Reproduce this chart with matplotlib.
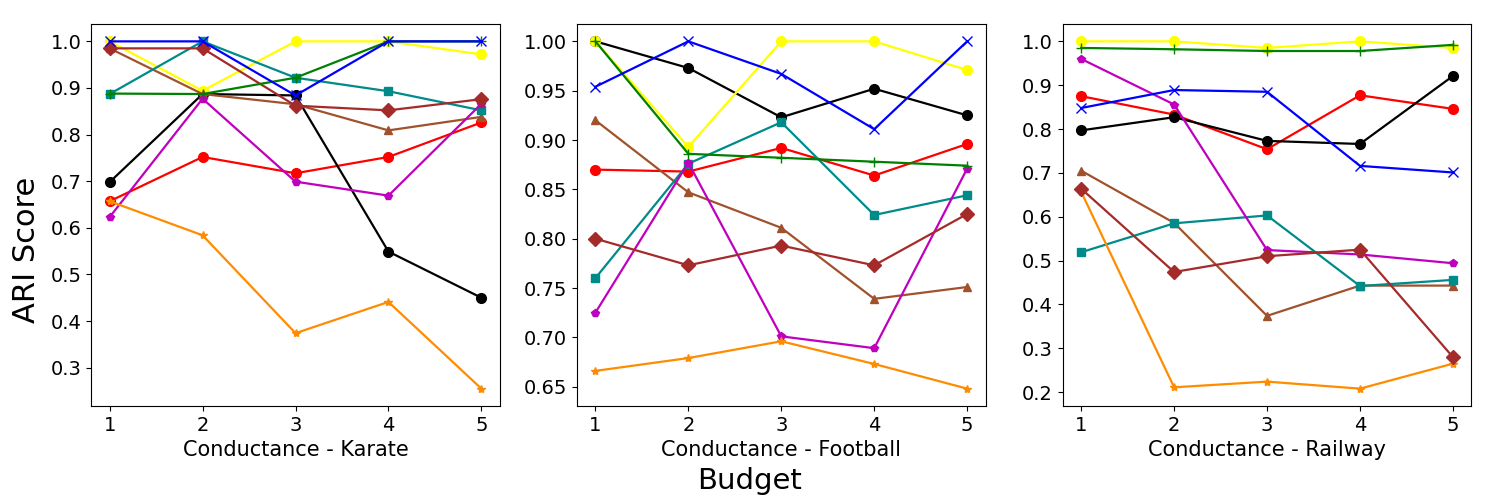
import matplotlib
matplotlib.use('Agg')
import matplotlib.pyplot as plt

budget = [1, 2, 3, 4, 5]

# ARI per method, Karate
karate_red = [0.657, 0.752, 0.717, 0.752, 0.826]
karate_black = [0.698, 0.887, 0.884, 0.549, 0.450]
karate_yellow = [1.0, 0.894, 1.0, 1.0, 0.972]
karate_sienna = [0.985, 0.887, 0.865, 0.809, 0.838]
karate_teal = [0.887, 1.0, 0.922, 0.893, 0.852]
karate_magenta = [0.623, 0.877, 0.699, 0.669, 0.866]
karate_orange = [0.657, 0.584, 0.374, 0.441, 0.255]
karate_brown = [0.985, 0.985, 0.862, 0.852, 0.876]
karate_green = [0.888, 0.887, 0.922, 1.0, 1.0]
karate_blue = [1.0, 1.0, 0.884, 1.0, 1.0]

# Football
football_red = [0.870, 0.868, 0.892, 0.864, 0.896]
football_black = [1.0, 0.973, 0.923, 0.952, 0.925]
football_yellow = [1.0, 0.893, 1.0, 1.0, 0.971]
football_sienna = [0.920, 0.847, 0.811, 0.739, 0.751]
football_teal = [0.760, 0.876, 0.918, 0.824, 0.844]
football_magenta = [0.725, 0.877, 0.701, 0.689, 0.871]
football_orange = [0.666, 0.679, 0.696, 0.673, 0.648]
football_brown = [0.800, 0.773, 0.793, 0.773, 0.825]
football_green = [1.0, 0.886, 0.882, 0.878, 0.874]
football_blue = [0.954, 1.0, 0.967, 0.911, 1.0]

# Railway
railway_red = [0.875, 0.833, 0.754, 0.877, 0.846]
railway_black = [0.797, 0.827, 0.773, 0.766, 0.921]
railway_yellow = [1.0, 1.0, 0.985, 1.0, 0.985]
railway_sienna = [0.705, 0.586, 0.374, 0.443, 0.443]
railway_teal = [0.519, 0.585, 0.603, 0.442, 0.456]
railway_magenta = [0.960, 0.856, 0.524, 0.514, 0.494]
railway_orange = [0.657, 0.211, 0.224, 0.208, 0.265]
railway_brown = [0.664, 0.474, 0.510, 0.525, 0.280]
railway_green = [0.985, 0.982, 0.978, 0.978, 0.992]
railway_blue = [0.848, 0.889, 0.885, 0.716, 0.701]

datasets = ['Karate', 'Football', 'Railway']

# (color, marker, markersize) in drawing order
styles = [
    ('red', 'o', 7),
    ('black', 'o', 7),
    ('yellow', 'o', 7),
    ('sienna', '^', 6),
    ('darkcyan', 's', 6),
    ('m', 'p', 6),
    ('darkorange', '*', 6),
    ('brown', 'D', 7),
    ('green', '+', 7),
    ('blue', 'x', 7),
]

series = {
    'Karate': [karate_red, karate_black, karate_yellow, karate_sienna, karate_teal,
               karate_magenta, karate_orange, karate_brown, karate_green, karate_blue],
    'Football': [football_red, football_black, football_yellow, football_sienna, football_teal,
                 football_magenta, football_orange, football_brown, football_green, football_blue],
    'Railway': [railway_red, railway_black, railway_yellow, railway_sienna, railway_teal,
                railway_magenta, railway_orange, railway_brown, railway_green, railway_blue],
}

fig, axes = plt.subplots(1, 3, figsize=(15, 5), dpi=100)
fig.subplots_adjust(left=0.0607, right=0.981, bottom=0.188, top=0.952, wspace=0.188)

for ax, name in zip(axes, datasets):
    for (color, marker, ms), vals in zip(styles, series[name]):
        ax.plot(budget, vals, color=color, marker=marker, markersize=ms, linewidth=1.6)
    ax.set_xticks(budget)
    ax.tick_params(labelsize=14)
    ax.set_xlabel('Conductance - ' + name, fontsize=15)

fig.text(0.008, 0.5, 'ARI Score', rotation=90, ha='left', va='center', fontsize=22)
fig.text(0.5, 1 - 481 / 500, 'Budget', ha='center', va='center', fontsize=21)

plt.savefig('out.png')
